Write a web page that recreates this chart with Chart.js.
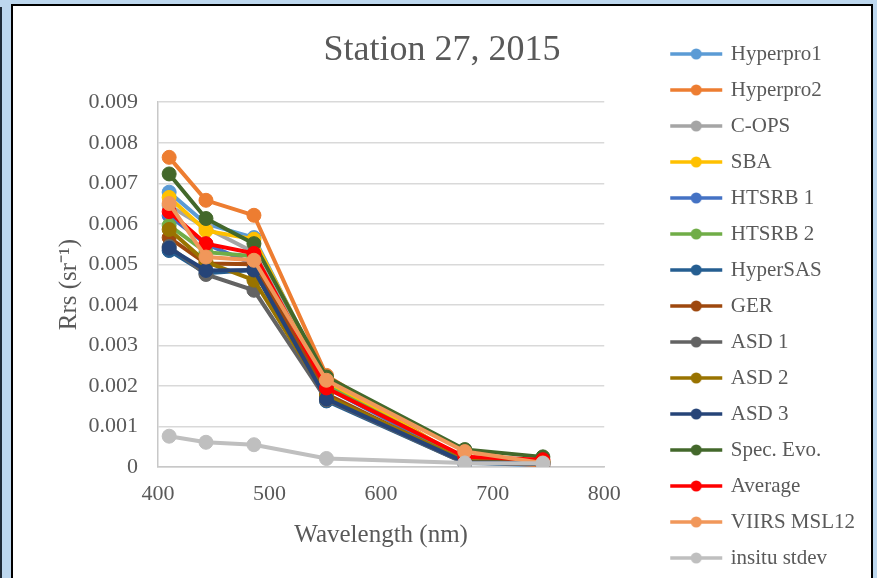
<!DOCTYPE html>
<html>
<head>
<meta charset="utf-8">
<script src="https://cdn.jsdelivr.net/npm/chart.js@4.4.1/dist/chart.umd.min.js"></script>
<style>
    html, body { margin: 0; padding: 0; overflow: hidden; }
    body { width: 877px; height: 578px; background: #bdd7ee; position: relative; }
    #edge { position: absolute; left: 0; top: 7px; width: 2px; height: 571px; background: #1f2a36; }
    #frame { position: absolute; left: 11px; top: 4px; width: 858px; height: 600px; border: 2px solid #000; background: #fff; }
    #chart { position: absolute; left: 19px; top: 6px; }
</style>
</head>
<body>
<div id="edge"></div>
<div id="frame"></div>
<canvas id="chart" width="846" height="590"></canvas>
<script>
// Station 27, 2015 - Rrs spectra per instrument

const wavelengths = [410, 443, 486, 551, 675, 745];

const seriesNames = [
    'Hyperpro1', 'Hyperpro2', 'C-OPS', 'SBA', 'HTSRB 1', 'HTSRB 2', 'HyperSAS',
    'GER', 'ASD 1', 'ASD 2', 'ASD 3', 'Spec. Evo.', 'Average', 'VIIRS MSL12', 'insitu stdev'
];

const seriesColors = [
    '#5b9bd5', '#ed7d31', '#a5a5a5', '#ffc000', '#4472c4', '#70ad47', '#255e91',
    '#9e480e', '#636363', '#997300', '#264478', '#43682b', '#ff0000', '#f1975a', '#bfbfbf'
];

const hyperpro1   = [0.00678, 0.00600, 0.00566, 0.00210, 0.00012, 0.00003];
const hyperpro2   = [0.00764, 0.00658, 0.00621, 0.00226, 0.00015, 0.00004];
const cOps        = [0.00645, 0.00590, 0.00530, 0.00205, 0.00015, 0.00008];
const sba         = [0.00665, 0.00583, 0.00562, 0.00212, 0.00020, 0.00012];
const htsrb1      = [0.00620, 0.00550, 0.00500, 0.00195, 0.00018, 0.00012];
const htsrb2      = [0.00596, 0.00530, 0.00520, 0.00200, 0.00022, 0.00015];
const hyperSas    = [0.00534, 0.00478, 0.00486, 0.00163, 0.00010, 0.00008];
const ger         = [0.00566, 0.00502, 0.00500, 0.00180, 0.00012, 0.00010];
const asd1        = [0.00544, 0.00475, 0.00436, 0.00166, 0.00010, 0.00008];
const asd2        = [0.00586, 0.00506, 0.00461, 0.00175, 0.00015, 0.00012];
const asd3        = [0.00540, 0.00485, 0.00486, 0.00168, 0.00012, 0.00010];
const specEvo     = [0.00723, 0.00613, 0.00551, 0.00222, 0.00043, 0.00025];
const average     = [0.00630, 0.00551, 0.00527, 0.00195, 0.00025, 0.00018];
const viirsMsl12  = [0.00650, 0.00518, 0.00510, 0.00214, 0.00038, 0.00010];
const insituStdev = [0.00076, 0.00061, 0.00055, 0.00021, 0.00010, 0.00009];

const seriesValues = [
    hyperpro1, hyperpro2, cOps, sba, htsrb1, htsrb2, hyperSas,
    ger, asd1, asd2, asd3, specEvo, average, viirsMsl12, insituStdev
];

const FONT = "'Liberation Serif', 'Times New Roman', serif";
const TEXT = '#595959';

// Legend marker: short line with a dot, like Excel's line+marker swatch
function legendMarker(color) {
    const c = document.createElement('canvas');
    c.width = 56;
    c.height = 14;
    const g = c.getContext('2d');
    g.strokeStyle = color;
    g.lineWidth = 3.5;
    g.beginPath();
    g.moveTo(2, 7);
    g.lineTo(54, 7);
    g.stroke();
    g.fillStyle = color;
    g.beginPath();
    g.arc(28, 7, 5.5, 0, Math.PI * 2);
    g.fill();
    return c;
}
const markers = seriesColors.map(legendMarker);

// Later series are drawn on top, as in the original
const datasets = seriesNames.map((name, i) => ({
    label: name,
    data: wavelengths.map((w, j) => ({ x: w, y: seriesValues[i][j] })),
    borderColor: seriesColors[i],
    backgroundColor: seriesColors[i],
    pointBackgroundColor: seriesColors[i],
    pointBorderColor: seriesColors[i],
    borderWidth: 4,
    pointRadius: 7,
    pointBorderWidth: 1,
    tension: 0,
    order: seriesNames.length - i
}));

new Chart(document.getElementById('chart'), {
    type: 'line',
    data: { datasets: datasets },
    options: {
        responsive: false,
        animation: false,
        layout: { padding: { top: 22.5, left: 0, right: 0, bottom: 0 } },
        plugins: {
            title: {
                display: true,
                text: 'Station 27, 2015',
                color: TEXT,
                font: { family: FONT, size: 36, weight: 'normal' },
                padding: { top: 0, bottom: 30.5 }
            },
            legend: {
                position: 'right',
                align: 'start',
                maxWidth: 300,
                labels: {
                    usePointStyle: true,
                    pointStyleWidth: 48,
                    padding: 15,
                    color: TEXT,
                    font: { family: FONT, size: 21 },
                    generateLabels(chart) {
                        const items = Chart.defaults.plugins.legend.labels.generateLabels(chart);
                        items.forEach(item => { item.pointStyle = markers[item.datasetIndex]; });
                        return items;
                    },
                    sort: (a, b) => a.datasetIndex - b.datasetIndex
                }
            },
            tooltip: { enabled: false }
        },
        scales: {
            x: {
                type: 'linear',
                min: 400,
                max: 800,
                ticks: {
                    stepSize: 100,
                    color: TEXT,
                    padding: 14,
                    font: { family: FONT, size: 22 }
                },
                grid: { display: false, drawTicks: false },
                border: { display: true, color: '#c8c8c8', width: 1.5 },
                title: {
                    display: true,
                    text: 'Wavelength (nm)',
                    color: TEXT,
                    font: { family: FONT, size: 25 },
                    padding: { top: 0, bottom: 46 }
                },
                afterFit(scale) { scale.height = 129; }
            },
            y: {
                min: 0,
                max: 0.009,
                ticks: {
                    stepSize: 0.001,
                    color: TEXT,
                    padding: 20,
                    font: { family: FONT, size: 22 },
                    callback: v => v === 0 ? '0' : v.toFixed(3)
                },
                grid: { color: '#d9d9d9', lineWidth: 1.5, drawTicks: false },
                border: { display: true, color: '#c8c8c8', width: 1.5 },
                title: {
                    display: true,
                    text: 'Rrs (sr⁻¹)',
                    color: TEXT,
                    font: { family: FONT, size: 25 },
                    padding: { top: 35, bottom: 0 }
                },
                afterFit(scale) { scale.width = 139; }
            },
            // empty spacer between plot and legend
            gap: {
                type: 'linear',
                position: 'right',
                grid: { display: false, drawTicks: false },
                ticks: { display: false },
                border: { display: false },
                afterFit(scale) { scale.width = 53; }
            }
        }
    }
});
</script>
</body>
</html>
